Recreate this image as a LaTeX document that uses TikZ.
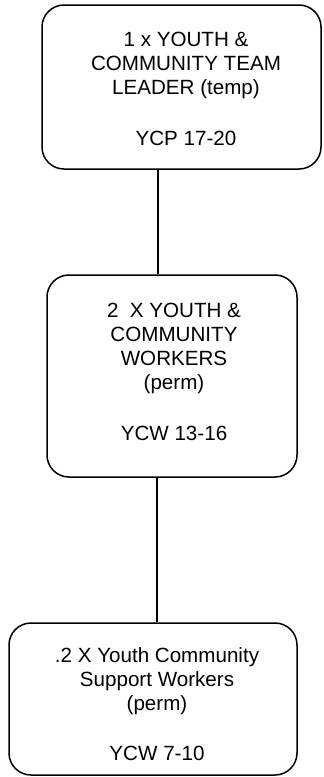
\documentclass[tikz,border=0pt]{standalone}
\usepackage{fontspec}
\setmainfont{Liberation Sans}
\begin{document}
\begin{tikzpicture}[x=1pt,y=-1pt,
  box/.style={draw=black,line width=1.5pt,rounded corners=22pt,inner sep=0pt},
  txt/.style={align=center,inner sep=0pt,font=\fontsize{20.6}{24}\selectfont},
  conn/.style={draw=black,line width=1.5pt}]
\useasboundingbox (0,0) rectangle (324,777);
\node[box,minimum width=279pt,minimum height=164pt] (b1) at (181.5,87) {};
\node[box,minimum width=250pt,minimum height=202pt] (b2) at (172,376) {};
\node[box,minimum width=288pt,minimum height=152pt] (b3) at (153,699) {};
\node[txt] (t1) at (186,88.5) {1 x YOUTH \&\\COMMUNITY TEAM\\LEADER (temp)\\[27pt]YCP 17-20};
\node[txt] (t2) at (174,372) {2\ \ X YOUTH \&\\COMMUNITY\\WORKERS\\(perm)\\[27pt]YCW 13-16};
\node[txt] (t3) at (157,704) {.2 X Youth Community\\Support Workers\\(perm)\\[26pt]YCW 7-10};
\coordinate (c1) at (158,0);
\coordinate (c2) at (157,0);
\draw[conn] (b1.south -| c1) -- (b2.north -| c1);
\draw[conn] (b2.south -| c2) -- (b3.north -| c2);
\end{tikzpicture}
\end{document}
